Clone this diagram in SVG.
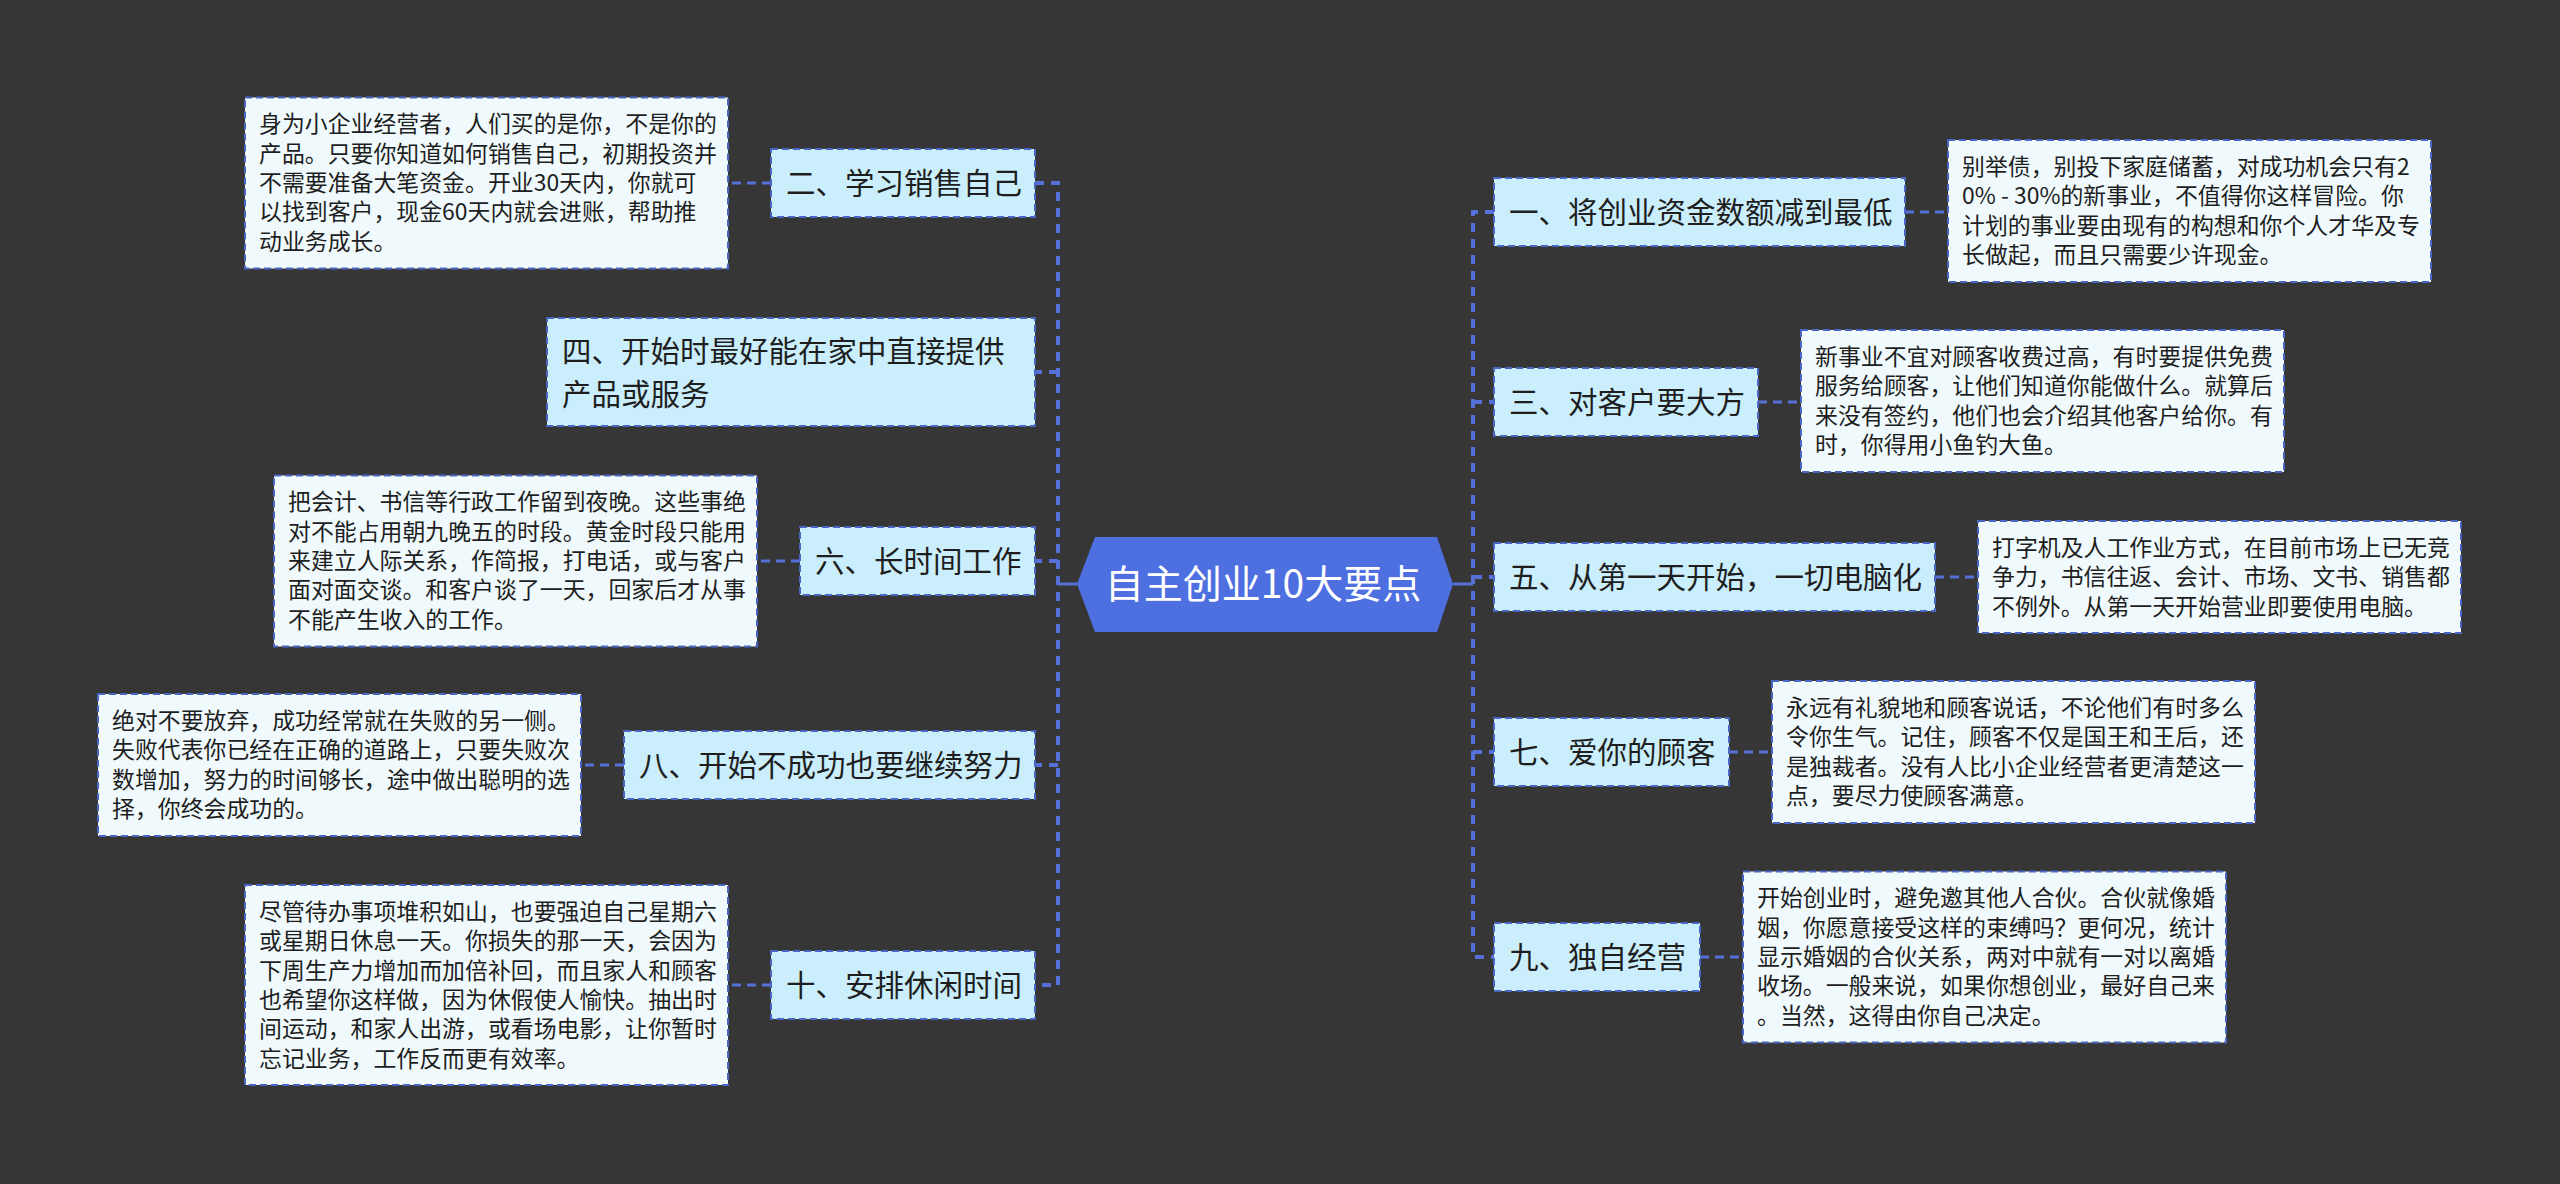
<svg xmlns="http://www.w3.org/2000/svg" width="2560" height="1184" viewBox="0 0 2560 1184">
<style>
.bg{fill:#363636}
.main rect{fill:#cbeefc;stroke:#4a66c4;stroke-width:2;stroke-dasharray:7 4}
.main text{font-family:"Noto Sans CJK SC","Microsoft YaHei",sans-serif;font-size:29.5px;fill:#1e1e1e}
.detail rect{fill:#f0fafd;stroke:#4a66c4;stroke-width:2;stroke-dasharray:7 4}
.detail text{font-family:"Noto Sans CJK SC","Microsoft YaHei",sans-serif;font-size:22.9px;fill:#1e1e1e}
.trunk{fill:none;stroke:#5570d8;stroke-width:4;stroke-dasharray:9 7}
.link{fill:none;stroke:#5570d8;stroke-width:3;stroke-dasharray:9 6}
.solid{fill:none;stroke:#5570d8;stroke-width:3}
</style>
<rect class="bg" x="0" y="0" width="2560" height="1184"/>

<g id="connectors">
  <path class="solid" d="M1077,584 H1058"/>
  <path class="solid" d="M1453,584 H1473"/>
  <path class="trunk" d="M1035,183 H1058 V985 H1035"/>
  <path class="trunk" d="M1058,372 H1035 M1058,561 H1035 M1058,765 H1035"/>
  <path class="trunk" d="M1494,212 H1473 V957 H1494"/>
  <path class="trunk" d="M1473,402 H1494 M1473,577 H1494 M1473,752 H1494"/>
  <path class="link" d="M771,183 H728"/>
  <path class="link" d="M800,561 H757"/>
  <path class="link" d="M624,765 H581"/>
  <path class="link" d="M771,985 H728"/>
  <path class="link" d="M1905,212 H1948"/>
  <path class="link" d="M1758,402 H1801"/>
  <path class="link" d="M1935,577 H1978"/>
  <path class="link" d="M1729,752 H1772"/>
  <path class="link" d="M1700,957 H1743"/>
</g>

<g id="root">
  <polygon points="1077,584 1095,537 1437,537 1453,584 1437,632 1095,632" fill="#4d6fe0"/>
  <text x="1263" y="598" text-anchor="middle" font-family="'Noto Sans CJK SC','Microsoft YaHei',sans-serif" font-size="39" fill="#ffffff">自主创业10大要点</text>
</g>

<g id="n2" class="main"><rect x="771" y="149" width="264" height="68"/><text x="786" y="193.5">二、学习销售自己</text></g>
<g id="n4" class="main"><rect x="547" y="318" width="488" height="108"/><text x="562"><tspan x="562" y="362">四、开始时最好能在家中直接提供</tspan><tspan x="562" y="405">产品或服务</tspan></text></g>
<g id="n6" class="main"><rect x="800" y="527" width="235" height="68"/><text x="815" y="571.5">六、长时间工作</text></g>
<g id="n8" class="main"><rect x="624" y="731" width="411" height="68"/><text x="639" y="775.5">八、开始不成功也要继续努力</text></g>
<g id="n10" class="main"><rect x="771" y="951" width="264" height="68"/><text x="786" y="995.5">十、安排休闲时间</text></g>

<g id="n1" class="main"><rect x="1494" y="178" width="411" height="68"/><text x="1509" y="222.5">一、将创业资金数额减到最低</text></g>
<g id="n3" class="main"><rect x="1494" y="368" width="264" height="68"/><text x="1509" y="412.5">三、对客户要大方</text></g>
<g id="n5" class="main"><rect x="1494" y="543" width="441" height="68"/><text x="1509" y="587.5">五、从第一天开始，一切电脑化</text></g>
<g id="n7" class="main"><rect x="1494" y="718" width="235" height="68"/><text x="1509" y="762.5">七、爱你的顾客</text></g>
<g id="n9" class="main"><rect x="1494" y="923" width="206" height="68"/><text x="1509" y="967.5">九、独自经营</text></g>

<g id="d2" class="detail"><rect x="245" y="97.5" width="483" height="171"/>
  <text x="259"><tspan x="259" y="132.2">身为小企业经营者，人们买的是你，不是你的</tspan><tspan x="259" y="161.6">产品。只要你知道如何销售自己，初期投资并</tspan><tspan x="259" y="191">不需要准备大笔资金。开业30天内，你就可</tspan><tspan x="259" y="220.4">以找到客户，现金60天内就会进账，帮助推</tspan><tspan x="259" y="249.8">动业务成长。</tspan></text></g>
<g id="d6" class="detail"><rect x="274" y="475.5" width="483" height="171"/>
  <text x="288"><tspan x="288" y="510.2">把会计、书信等行政工作留到夜晚。这些事绝</tspan><tspan x="288" y="539.6">对不能占用朝九晚五的时段。黄金时段只能用</tspan><tspan x="288" y="569">来建立人际关系，作简报，打电话，或与客户</tspan><tspan x="288" y="598.4">面对面交谈。和客户谈了一天，回家后才从事</tspan><tspan x="288" y="627.8">不能产生收入的工作。</tspan></text></g>
<g id="d8" class="detail"><rect x="98" y="694" width="483" height="142"/>
  <text x="112"><tspan x="112" y="728.7">绝对不要放弃，成功经常就在失败的另一侧。</tspan><tspan x="112" y="758.1">失败代表你已经在正确的道路上，只要失败次</tspan><tspan x="112" y="787.5">数增加，努力的时间够长，途中做出聪明的选</tspan><tspan x="112" y="816.9">择，你终会成功的。</tspan></text></g>
<g id="d10" class="detail"><rect x="245" y="885" width="483" height="200"/>
  <text x="259"><tspan x="259" y="919.7">尽管待办事项堆积如山，也要强迫自己星期六</tspan><tspan x="259" y="949.1">或星期日休息一天。你损失的那一天，会因为</tspan><tspan x="259" y="978.5">下周生产力增加而加倍补回，而且家人和顾客</tspan><tspan x="259" y="1007.9">也希望你这样做，因为休假使人愉快。抽出时</tspan><tspan x="259" y="1037.3">间运动，和家人出游，或看场电影，让你暂时</tspan><tspan x="259" y="1066.7">忘记业务，工作反而更有效率。</tspan></text></g>

<g id="d1" class="detail"><rect x="1948" y="140" width="483" height="142"/>
  <text x="1962"><tspan x="1962" y="174.7">别举债，别投下家庭储蓄，对成功机会只有2</tspan><tspan x="1962" y="204.1">0% - 30%的新事业，不值得你这样冒险。你</tspan><tspan x="1962" y="233.5">计划的事业要由现有的构想和你个人才华及专</tspan><tspan x="1962" y="262.9">长做起，而且只需要少许现金。</tspan></text></g>
<g id="d3" class="detail"><rect x="1801" y="330" width="483" height="142"/>
  <text x="1815"><tspan x="1815" y="364.7">新事业不宜对顾客收费过高，有时要提供免费</tspan><tspan x="1815" y="394.1">服务给顾客，让他们知道你能做什么。就算后</tspan><tspan x="1815" y="423.5">来没有签约，他们也会介绍其他客户给你。有</tspan><tspan x="1815" y="452.9">时，你得用小鱼钓大鱼。</tspan></text></g>
<g id="d5" class="detail"><rect x="1978" y="521" width="483" height="112"/>
  <text x="1992"><tspan x="1992" y="555.7">打字机及人工作业方式，在目前市场上已无竞</tspan><tspan x="1992" y="585.1">争力，书信往返、会计、市场、文书、销售都</tspan><tspan x="1992" y="614.5">不例外。从第一天开始营业即要使用电脑。</tspan></text></g>
<g id="d7" class="detail"><rect x="1772" y="681" width="483" height="142"/>
  <text x="1786"><tspan x="1786" y="715.7">永远有礼貌地和顾客说话，不论他们有时多么</tspan><tspan x="1786" y="745.1">令你生气。记住，顾客不仅是国王和王后，还</tspan><tspan x="1786" y="774.5">是独裁者。没有人比小企业经营者更清楚这一</tspan><tspan x="1786" y="803.9">点，要尽力使顾客满意。</tspan></text></g>
<g id="d9" class="detail"><rect x="1743" y="871.5" width="483" height="171"/>
  <text x="1757"><tspan x="1757" y="906.2">开始创业时，避免邀其他人合伙。合伙就像婚</tspan><tspan x="1757" y="935.6">姻，你愿意接受这样的束缚吗？更何况，统计</tspan><tspan x="1757" y="965">显示婚姻的合伙关系，两对中就有一对以离婚</tspan><tspan x="1757" y="994.4">收场。一般来说，如果你想创业，最好自己来</tspan><tspan x="1757" y="1023.8">。当然，这得由你自己决定。</tspan></text></g>
</svg>
